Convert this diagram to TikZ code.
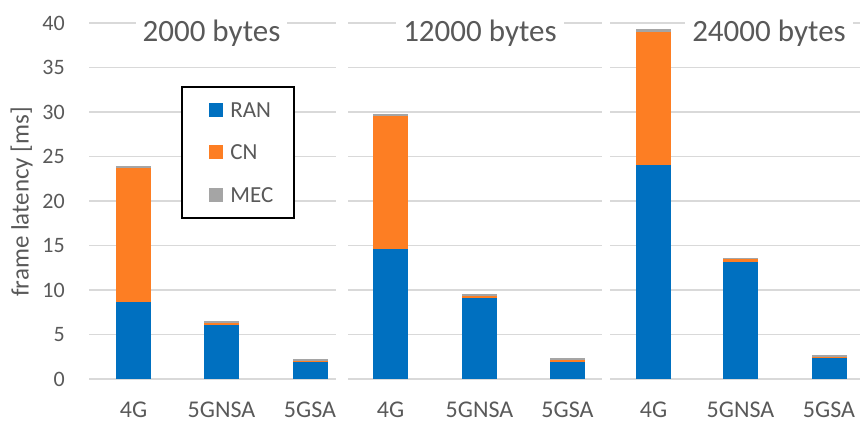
\documentclass[tikz,border=0pt]{standalone}
\usepackage{fontspec}
\setmainfont{Carlito}
\usetikzlibrary{positioning}

\definecolor{ranblue}{RGB}{0,112,192}
\definecolor{cnorange}{RGB}{253,126,35}
\definecolor{mecgray}{RGB}{165,165,165}
\definecolor{gridgray}{RGB}{217,217,217}
\definecolor{txtgray}{RGB}{89,89,89}

\begin{document}
\begin{tikzpicture}[x=1pt, y=8.9pt,
	gridline/.style={draw=gridgray, line width=1.4pt},
	ticklab/.style={text=txtgray, font=\fontsize{22}{26}\selectfont, anchor=east, inner sep=0pt},
	catlab/.style={text=txtgray, font=\fontsize{24}{28}\selectfont, anchor=base, inner sep=0pt},
	paneltitle/.style={text=txtgray, fill=white, font=\fontsize{31}{36}\selectfont, anchor=base, inner xsep=7pt, inner ysep=3pt},
	legsq/.style={minimum size=14pt, inner sep=0pt},
	legtext/.style={text=txtgray, font=\fontsize{23}{27}\selectfont, anchor=west, inner sep=0pt}]
	
	\def \bw {17.5} % half bar width
	
	\useasboundingbox (0,-4.94) rectangle (861,42.58);
	
	% grid and y ticks
	\foreach \v in {0,5,...,40}
	{
		\draw[gridline] (89,\v) -- (336,\v);
		\draw[gridline] (348,\v) -- (602,\v);
		\draw[gridline] (610,\v) -- (860,\v);
		\node[ticklab] (tick\v) at (65,\v) {\v};
	}
	
	% stacked bars: x / RAN / RAN+CN / RAN+CN+MEC
	\foreach \xc/\r/\c/\m in {133.5/8.6/23.7/23.9, 221.5/6.05/6.3/6.5, 310/1.85/2.05/2.2,
		390.5/14.6/29.6/29.8, 479.5/9.05/9.3/9.5, 567.5/1.95/2.15/2.3,
		653.5/24.0/39.0/39.3, 740.5/13.1/13.45/13.6, 829/2.3/2.5/2.65}
	{
		\fill[ranblue] (\xc-\bw,0) rectangle (\xc+\bw,\r);
		\fill[cnorange] (\xc-\bw,\r) rectangle (\xc+\bw,\c);
		\fill[mecgray] (\xc-\bw,\c) rectangle (\xc+\bw,\m);
	}
	
	% category labels
	\foreach \xc/\lab [count=\i] in {133.5/4G, 221.5/5GNSA, 310/5GSA,
		390.5/4G, 479.5/5GNSA, 567.5/5GSA,
		653.5/4G, 740.5/5GNSA, 829/5GSA}
	{
		\node[catlab] (cat\i) at (\xc,-4.3) {\lab};
	}
	
	% panel titles
	\node[paneltitle] (title1) at (211.5,37.87) {2000 bytes};
	\node[paneltitle] (title2) at (480,37.87) {12000 bytes};
	\node[paneltitle] (title3) at (769,37.87) {24000 bytes};
	
	% axis label
	\node[text=txtgray, font=\fontsize{25}{29}\selectfont, rotate=90] (ylab) at (21.7,19.9) {frame latency [ms]};
	
	% legend
	\node[draw=black, line width=1.5pt, fill=white, minimum width=112pt, minimum height=131pt, inner sep=0pt] (legend) at (237.9,25.47) {};
	\node[legsq, fill=ranblue] (sqran) at (216,30.22) {};
	\node[legsq, fill=cnorange] (sqcn) at (216,25.54) {};
	\node[legsq, fill=mecgray] (sqmec) at (216,20.67) {};
	\node[legtext, right=7pt of sqran] (labran) {RAN};
	\node[legtext, right=7pt of sqcn] (labcn) {CN};
	\node[legtext, right=7pt of sqmec] (labmec) {MEC};
	
\end{tikzpicture}
\end{document}
